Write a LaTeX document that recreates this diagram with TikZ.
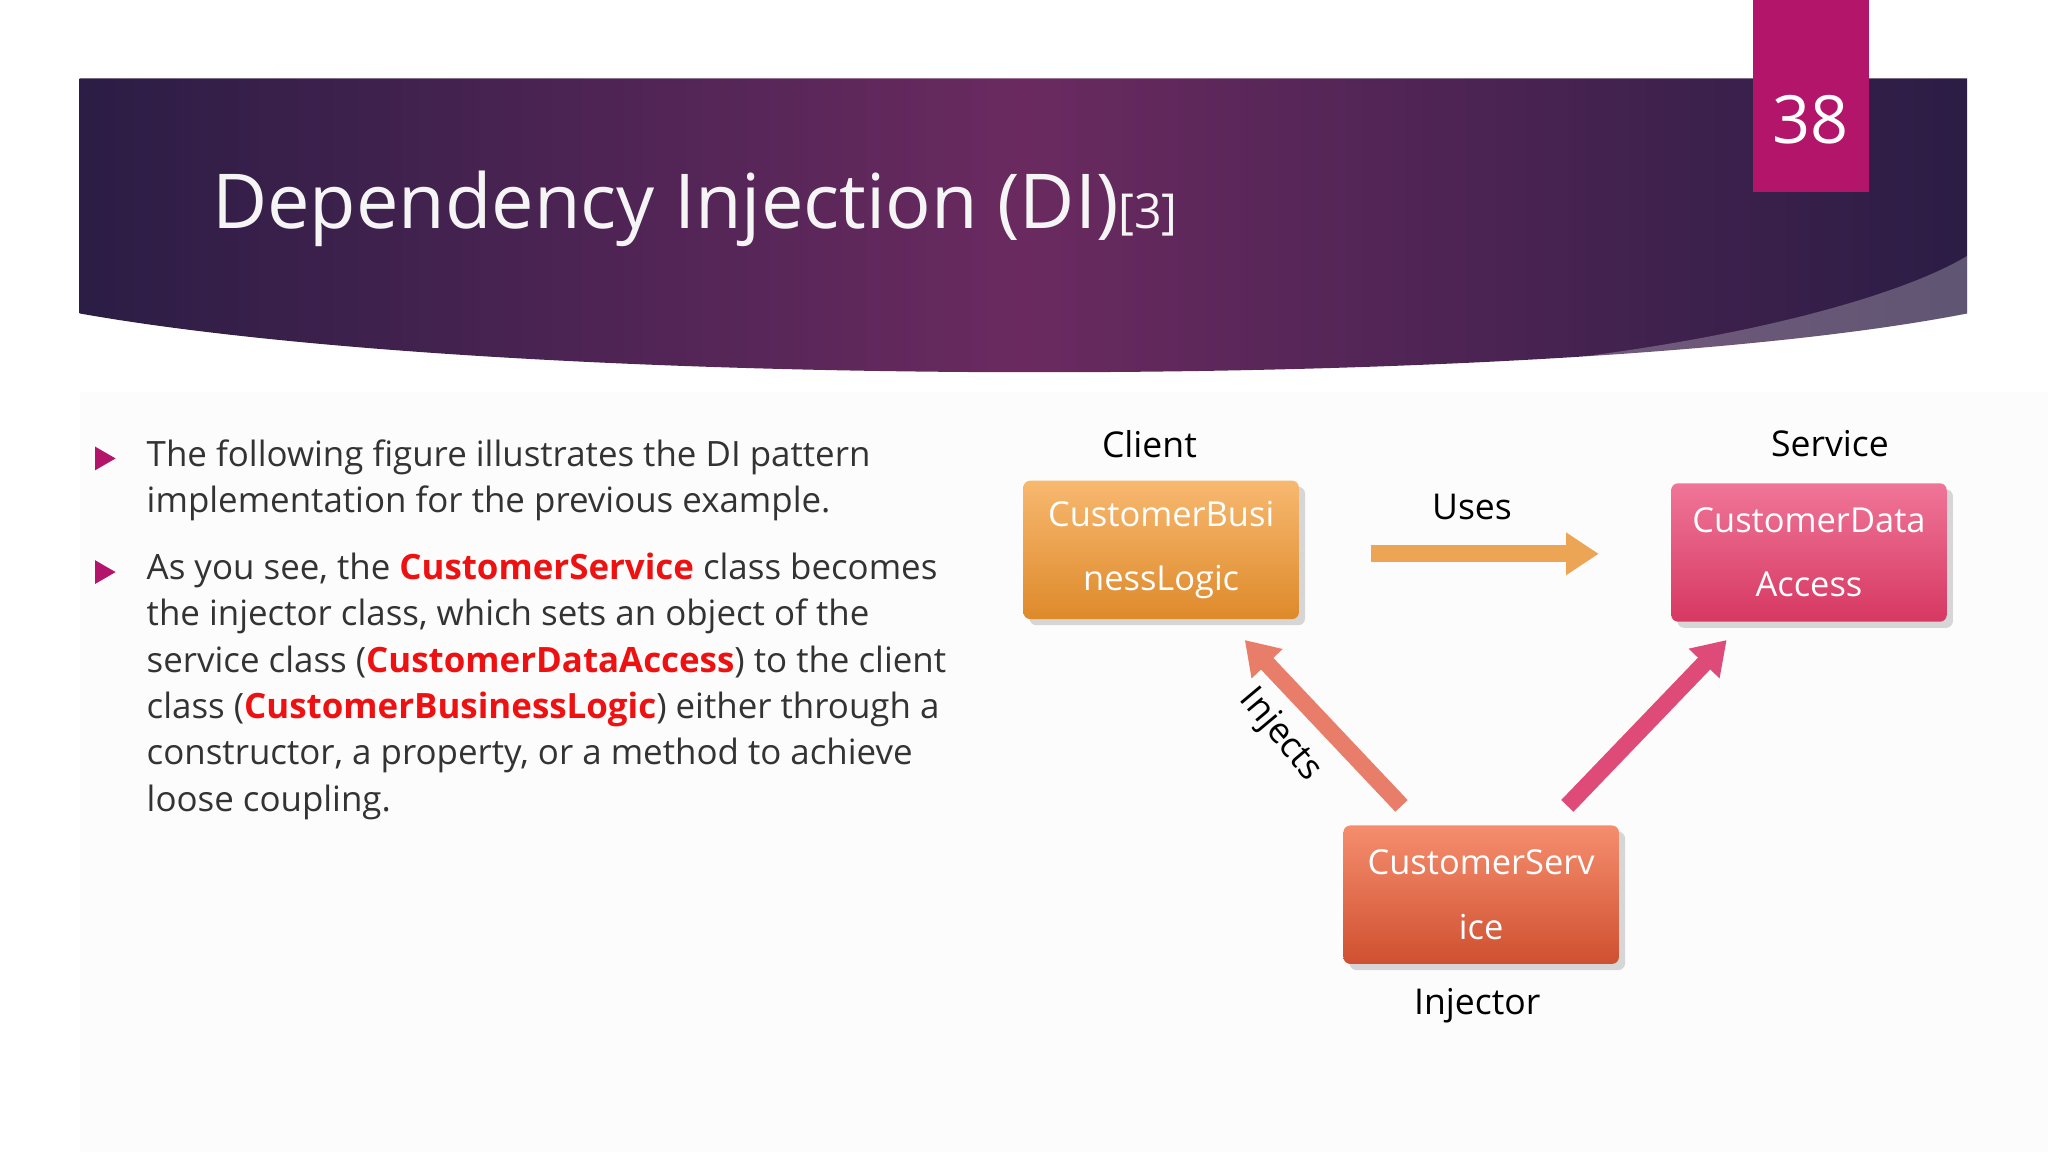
\documentclass[tikz,border=0pt]{standalone}
\usepackage{fontspec}
\setmainfont{Open Sans}
\usetikzlibrary{arrows.meta,shapes.geometric,shadows}
\definecolor{hd1}{HTML}{2B1D45}
\definecolor{hd2}{HTML}{6A2A60}
\definecolor{pnum}{HTML}{B3156A}
\definecolor{txt}{HTML}{333333}
\definecolor{red1}{HTML}{EE1111}
\definecolor{o1}{HTML}{F7B870}\definecolor{o2}{HTML}{DE8A2A}
\definecolor{p1}{HTML}{F07598}\definecolor{p2}{HTML}{D63862}
\definecolor{r1}{HTML}{F58E6E}\definecolor{r2}{HTML}{CF5030}
\tikzset{
 px/.style={x=0.02cm,y=-0.02cm},
 box/.style={draw=none,rounded corners=3pt,minimum width=4.22cm,minimum height=2.12cm,text=white,align=center,font=\fontsize{15}{28}\selectfont,drop shadow={opacity=0.3}},
 lbl/.style={font=\fontsize{15.5}{20}\selectfont,text=black},
 blk/.style={line width=0.26cm,-{Triangle[length=0.5cm,width=0.62cm]}},
 bullet/.style={fill=pnum,regular polygon,regular polygon sides=3,shape border rotate=-90,inner sep=0pt,minimum size=0.42cm},
 body/.style={anchor=north west,text=txt,align=left,font=\fontsize{15.2}{20.2}\selectfont,inner sep=0}
}
\begin{document}
\begin{tikzpicture}[px]
\useasboundingbox (0,0) rectangle (1568,882);
\fill[white] (0,0) rectangle (1568,882);
\fill[gray!2] (61,300) rectangle (1568,882);
% header
\shade[left color=hd1,right color=hd1,middle color=hd2] (61,60) -- (1506,60) -- (1506,240) .. controls (1200,300) and (400,300) .. (61,240) -- cycle;
\fill[white,opacity=0.25] (1100,284) .. controls (1300,270) and (1450,230) .. (1506,196) -- (1506,240) .. controls (1400,262) and (1250,282) .. (1100,284) -- cycle;
\fill[pnum] (1342,0) rectangle (1431,147);
\node[text=white,font=\fontsize{29}{29}\selectfont] (num) at (1386,92) {38};
\node[anchor=base west,text=white!92!gray,font=\fontsize{33}{36}\selectfont,inner sep=0] (title) at (162,175) {Dependency Injection (DI)\fontsize{21}{21}\selectfont[3]};
% bullets
\node[bullet] (b1) at (78,351) {};
\node[bullet] (b2) at (78,438) {};
\node[body] (t1) at (112,336) {The following figure illustrates the DI pattern\\implementation for the previous example.};
\node[body] (t2) at (112,423) {As you see, the \textbf{\color{red1}CustomerService} class becomes\\the injector class, which sets an object of the\\service class (\textbf{\color{red1}CustomerDataAccess}) to the client\\class (\textbf{\color{red1}CustomerBusinessLogic}) either through a\\constructor, a property, or a method to achieve\\loose coupling.};
% boxes
\node[box,top color=o1,bottom color=o2] (cbl) at (889,421) {CustomerBusi\\nessLogic};
\node[box,top color=p1,bottom color=p2] (cda) at (1385,423) {CustomerData\\Access};
\node[box,top color=r1,bottom color=r2] (cs) at (1134,685) {CustomerServ\\ice};
\node[lbl] (client) at (880,340) {Client};
\node[lbl] (service) at (1401,340) {Service};
\node[lbl] (uses) at (1127,388) {Uses};
\node[lbl] (injector) at (1131,770) {Injector};
\node[lbl,rotate=-50,inner sep=0] (inj) at (980,563) {Injects};
% arrows
\coordinate (u1) at (1050,424); \coordinate (u2) at (1224,424);
\coordinate (i1) at (1073,617); \coordinate (i2) at (953,490);
\coordinate (s1) at (1200,617); \coordinate (s2) at (1322,490);
\draw[blk,draw={rgb,255:red,235;green,165;blue,85}] (u1) -- (u2);
\draw[blk,draw={rgb,255:red,232;green,125;blue,105}] (i1) -- (i2);
\draw[blk,draw={rgb,255:red,222;green,75;blue,120}] (s1) -- (s2);
\end{tikzpicture}
\end{document}
